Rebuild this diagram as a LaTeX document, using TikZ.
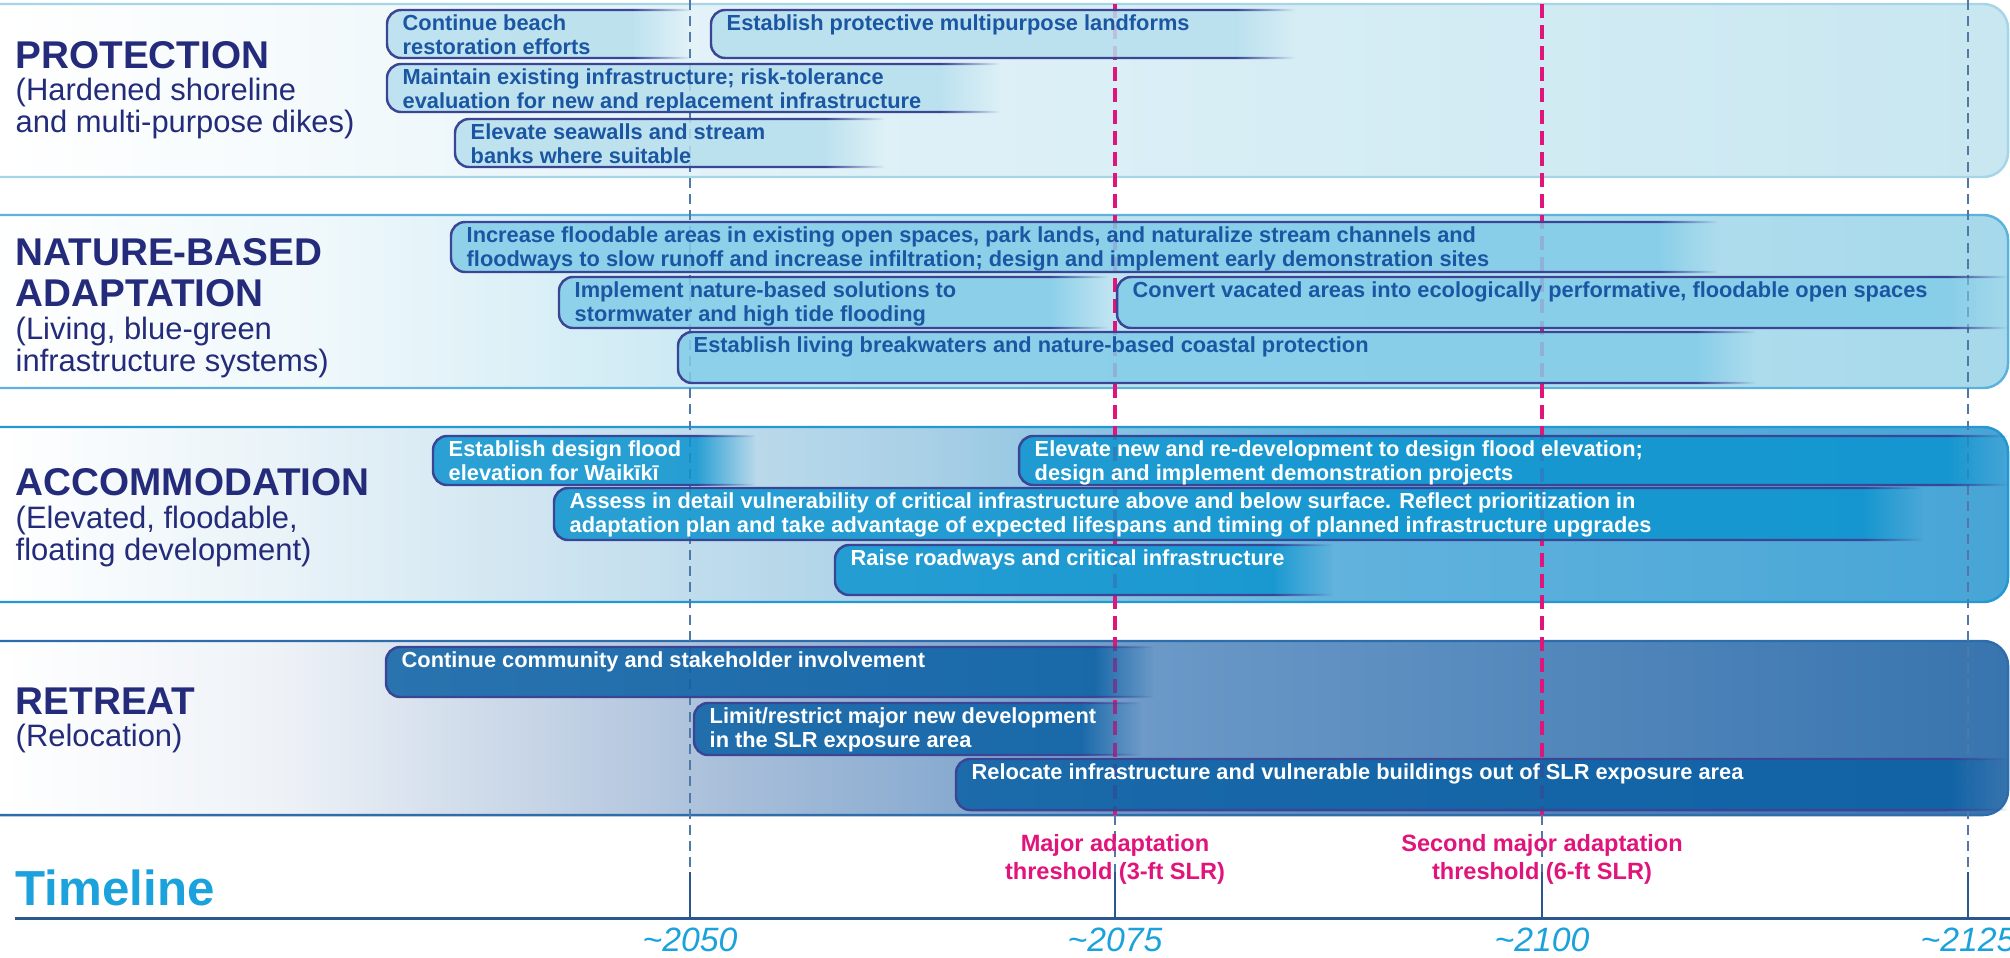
\documentclass[tikz,border=0pt]{standalone}
\usepackage{fontspec}
\setmainfont{Liberation Sans}
\usetikzlibrary{fadings}

\definecolor{titlenavy}{HTML}{232B7A}
\definecolor{barline}{HTML}{3A4595}
\definecolor{bartextblue}{HTML}{1B56A3}
\definecolor{protbar}{HTML}{B6DFED}
\definecolor{natbar}{HTML}{82CCE8}
\definecolor{accbar}{HTML}{0C94CF}
\definecolor{retbar}{HTML}{0A60A4}
\definecolor{protedge}{HTML}{A5D5E7}
\definecolor{natedge}{HTML}{5DB2DC}
\definecolor{accedge}{HTML}{2398D3}
\definecolor{retedge}{HTML}{2E6DAC}
\definecolor{thresh}{HTML}{E0147B}
\definecolor{tlcyan}{HTML}{1BA2DC}
\definecolor{gridblue}{HTML}{5079A8}
\definecolor{axisblue}{HTML}{2C5690}
% band backgrounds, white on the left
\definecolor{protA}{HTML}{F4FAFC}
\definecolor{protB}{HTML}{E2F2F8}
\definecolor{protC}{HTML}{C8E7F1}
\definecolor{natA}{HTML}{EFF8FB}
\definecolor{natB}{HTML}{C9E8F3}
\definecolor{natC}{HTML}{A6D9EB}
\definecolor{accA}{HTML}{E9F3F8}
\definecolor{accB}{HTML}{A9D0E6}
\definecolor{accC}{HTML}{62B3DD}
\definecolor{accD}{HTML}{47A5D6}
\definecolor{retA}{HTML}{EEF2F7}
\definecolor{retB}{HTML}{A9BFDA}
\definecolor{retC}{HTML}{6A98C7}
\definecolor{retD}{HTML}{3874AE}

\pgfdeclarehorizontalshading{protshade}{100bp}{color(0bp)=(white); color(25bp)=(white); color(33bp)=(protA); color(43bp)=(protB); color(75bp)=(protC); color(100bp)=(protC)}
\pgfdeclarehorizontalshading{natshade}{100bp}{color(0bp)=(white); color(25bp)=(white); color(33bp)=(natA); color(43bp)=(natB); color(75bp)=(natC); color(100bp)=(natC)}
\pgfdeclarehorizontalshading{accshade}{100bp}{color(0bp)=(white); color(25bp)=(white); color(32bp)=(accA); color(48bp)=(accB); color(58bp)=(accC); color(75bp)=(accD); color(100bp)=(accD)}
\pgfdeclarehorizontalshading{retshade}{100bp}{color(0bp)=(white); color(25bp)=(white); color(32bp)=(retA); color(43bp)=(retB); color(54bp)=(retC); color(75bp)=(retD); color(100bp)=(retD)}

% action bar: name, start x, end x, top, bottom, fill, text colour, text
\newcommand{\fadelen}{60}
\newcommand{\planbar}[8]{%
  \fill[#6, bar body, rounded corners=4pt] (#3-\fadelen,#4) -- (#2,#4) -- (#2,#5) -- (#3-\fadelen,#5);
  \fill[#6, bar body, path fading=east] (#3-\fadelen,#4) rectangle (#3,#5);
  \draw[bar edge] (#3-\fadelen,#4) -- (#2,#4) -- (#2,#5) -- (#3-\fadelen,#5);
  \fill[barline, path fading=east] (#3-\fadelen,#4-1.2) rectangle (#3,#4+1.2)
    (#3-\fadelen,#5-1.2) rectangle (#3,#5+1.2);
  \node[bartext, text=#7] (#1) at (#2+15,#4+4) {#8};
}

\begin{document}
\begin{tikzpicture}[
  x=0.01cm, y=-0.01cm,
  every node/.style={inner sep=0pt},
  band/.style={line width=0.7pt, rounded corners=7pt},
  bandtitle/.style={anchor=west, align=left, text=titlenavy, font=\fontsize{11}{11.7}\selectfont\bfseries},
  bandsub/.style={anchor=west, align=left, text=titlenavy, font=\fontsize{8.8}{9.1}\selectfont},
  bartext/.style={anchor=north west, align=left, font=\fontsize{6.2}{6.94}\selectfont\bfseries},
  bar body/.style={fill opacity=.85},
  bar edge/.style={draw=barline, line width=0.7pt, rounded corners=4pt},
  gridline/.style={gridblue, line width=0.45pt, dash pattern=on 2.8pt off 1.8pt},
  slrline/.style={thresh, line width=1.1pt, dash pattern=on 4pt off 2pt},
  axistick/.style={axisblue, line width=0.8pt},
  yearlabel/.style={text=tlcyan, font=\fontsize{9.6}{12}\selectfont\itshape},
  threshlabel/.style={align=center, text=thresh, font=\fontsize{6.7}{8}\selectfont\bfseries},
]
  \useasboundingbox (0,0) rectangle (2010,957);

  % strategy bands
  \shade[band, shading=protshade, draw=protedge] (0,4) -- (2008,4) -- (2008,177) -- (0,177);
  \shade[band, shading=natshade, draw=natedge] (0,215) -- (2008,215) -- (2008,388) -- (0,388);
  \shade[band, shading=accshade, draw=accedge] (0,427) -- (2008,427) -- (2008,602) -- (0,602);
  \shade[band, shading=retshade, draw=retedge] (0,641) -- (2008,641) -- (2008,815) -- (0,815);

  % year marks and thresholds
  \coordinate (t2050) at (690,918);
  \coordinate (t2075) at (1115,918);
  \coordinate (t2100) at (1542,918);
  \coordinate (t2125) at (1968,918);
  \draw[gridline] (690,0) -- (690,872);
  \draw[gridline] (1968,0) -- (1968,872);
  \draw[slrline] (1115,4) -- (1115,815);
  \draw[slrline] (1542,4) -- (1542,815);
  \draw[gridline] (1115,815) -- (1115,872);
  \draw[gridline] (1542,815) -- (1542,872);

  % protection
  \planbar{prot-beach}{387}{692}{10}{58}{protbar}{bartextblue}{Continue beach\\restoration efforts}
  \planbar{prot-landforms}{711}{1295}{10}{58}{protbar}{bartextblue}{Establish protective multipurpose landforms}
  \planbar{prot-maintain}{387}{1000}{64}{112}{protbar}{bartextblue}{Maintain existing infrastructure; risk-tolerance\\evaluation for new and replacement infrastructure}
  \planbar{prot-seawalls}{455}{885}{119}{167}{protbar}{bartextblue}{Elevate seawalls and stream\\banks where suitable}

  % nature-based
  \planbar{nat-flood}{451}{1718}{222}{272}{natbar}{bartextblue}{Increase floodable areas in existing open spaces, park lands, and naturalize stream channels and\\floodways to slow runoff and increase infiltration; design and implement early demonstration sites}
  \planbar{nat-solutions}{559}{1109}{277}{328}{natbar}{bartextblue}{Implement nature-based solutions to\\stormwater and high tide flooding}
  \planbar{nat-convert}{1117}{2008}{277}{328}{natbar}{bartextblue}{Convert vacated areas into ecologically performative, floodable open spaces}
  \planbar{nat-breakwater}{678}{1756}{332}{383}{natbar}{bartextblue}{Establish living breakwaters and nature-based coastal protection}

  % accommodation
  \planbar{acc-design}{433}{756}{436}{485}{accbar}{white}{Establish design flood\\elevation for Waikīkī}
  \planbar{acc-elevate}{1019}{2008}{436}{485}{accbar}{white}{Elevate new and re-development to design flood elevation;\\design and implement demonstration projects}
  \planbar{acc-assess}{554}{1923}{488}{540}{accbar}{white}{Assess in detail vulnerability of critical infrastructure above and below surface. Reflect prioritization in\\adaptation plan and take advantage of expected lifespans and timing of planned infrastructure upgrades}
  \planbar{acc-roads}{835}{1333}{545}{595}{accbar}{white}{Raise roadways and critical infrastructure}

  % retreat
  \planbar{ret-involve}{386}{1154}{647}{697}{retbar}{white}{Continue community and stakeholder involvement}
  \planbar{ret-limit}{694}{1141}{703}{755}{retbar}{white}{Limit/restrict major new development\\in the SLR exposure area}
  \planbar{ret-relocate}{956}{2008}{759}{810}{retbar}{white}{Relocate infrastructure and vulnerable buildings out of SLR exposure area}

  % band titles
  \node[bandtitle] (prot-title) at (15,55) {PROTECTION};
  \node[bandsub] (prot-sub) at (15,108) {(Hardened shoreline\\and multi-purpose dikes)};
  \node[bandtitle] (nat-title) at (15,273) {NATURE-BASED\\ADAPTATION};
  \node[bandsub] (nat-sub) at (15,347) {(Living, blue-green\\infrastructure systems)};
  \node[bandtitle] (acc-title) at (15,482) {ACCOMMODATION};
  \node[bandsub] (acc-sub) at (15,536) {(Elevated, floodable,\\floating development)};
  \node[bandtitle] (ret-title) at (15,701) {RETREAT};
  \node[bandsub] (ret-sub) at (15,738) {(Relocation)};

  % timeline
  \node[anchor=west, text=tlcyan, font=\fontsize{14}{16}\selectfont\bfseries] (timeline) at (15,888) {Timeline};
  \coordinate (axis-start) at (15,918);
  \coordinate (axis-end) at (2010,918);
  \draw[axisblue, line width=0.85pt] (axis-start) -- (axis-end);
  \draw[axistick] (690,872) -- (t2050);
  \draw[axistick] (1115,872) -- (t2075);
  \draw[axistick] (1542,872) -- (t2100);
  \draw[axistick] (1968,872) -- (t2125);
  \node[yearlabel] (y2050) at (690,940) {\textasciitilde 2050};
  \node[yearlabel] (y2075) at (1115,940) {\textasciitilde 2075};
  \node[yearlabel] (y2100) at (1542,940) {\textasciitilde 2100};
  \node[yearlabel] (y2125) at (1968,940) {\textasciitilde 2125};
  \node[threshlabel] (slr3) at (1115,859) {Major adaptation\\threshold (3-ft SLR)};
  \node[threshlabel] (slr6) at (1542,859) {Second major adaptation\\threshold (6-ft SLR)};
\end{tikzpicture}
\end{document}
